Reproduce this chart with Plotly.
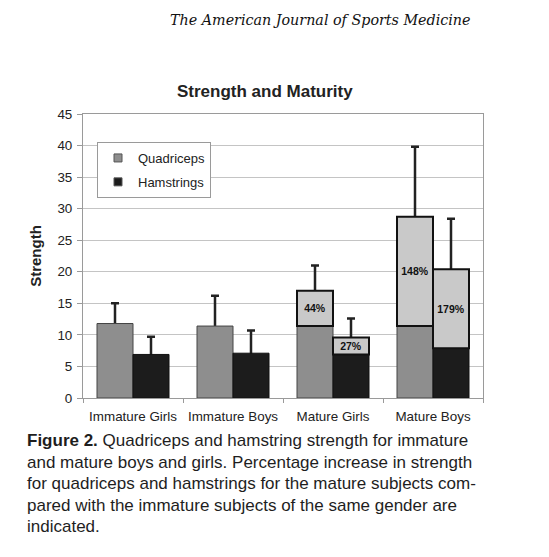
import plotly.graph_objects as go

categories = ["Immature Girls", "Immature Boys", "Mature Girls", "Mature Boys"]
quad_mean = [11.8, 11.4, 17.0, 28.7]
quad_err = [3.2, 4.8, 4.0, 11.1]
quad_ref = [None, None, 11.4, 11.4]
ham_mean = [6.9, 7.1, 9.6, 20.4]
ham_err = [2.8, 3.6, 3.0, 8.0]
ham_ref = [None, None, 6.9, 7.9]
quad_pct = ["", "", "44%", "148%"]
ham_pct = ["", "", "27%", "179%"]

caption_lines = [
    "<b>Figure 2.</b> Quadriceps and hamstring strength for immature",
    "and mature boys and girls. Percentage increase in strength",
    "for quadriceps and hamstrings for the mature subjects com-",
    "pared with the immature subjects of the same gender are",
    "indicated.",
]

FONT = "Liberation Sans, Arial, sans-serif"
Q_COL = "#8e8e8e"
H_COL = "#1c1c1c"
INC_COL = "#c9c9c9"
ERR_COL = "#222222"

# page body has an 8px margin; figure is sized to fit the window
PAGE = 8
W, H = 549 - PAGE, 557 - PAGE
PL, PR, PT, PB = 83, 483, 114, 398   # plot area in window pixels


def px(xw):
    return (xw - PL) / (PR - PL)


def py(yw):
    return (PB - yw) / (PB - PT)


def base_vals(mean, ref):
    return [m if r is None else r for m, r in zip(mean, ref)]


def inc_vals(mean, ref):
    return [None if r is None else m - r for m, r in zip(mean, ref)]


fig = go.Figure()

# error bars drawn first (underneath the visible bars)
for mean, err, grp in [(quad_mean, quad_err, "q"), (ham_mean, ham_err, "h")]:
    fig.add_trace(go.Bar(
        x=categories, y=mean, offsetgroup=grp, showlegend=False, hoverinfo="skip",
        marker=dict(color="rgba(0,0,0,0)", line=dict(width=0)),
        error_y=dict(type="data", symmetric=False, array=err, arrayminus=mean,
                     color=ERR_COL, thickness=2.5, width=4),
    ))

fig.add_trace(go.Bar(
    x=categories, y=base_vals(quad_mean, quad_ref), name="Quadriceps",
    offsetgroup="q", showlegend=False,
    marker=dict(color=Q_COL, line=dict(color="#444444", width=1)),
))
fig.add_trace(go.Bar(
    x=categories, y=inc_vals(quad_mean, quad_ref), base=quad_ref, showlegend=False,
    offsetgroup="q", text=quad_pct, textposition="inside", insidetextanchor="middle",
    constraintext="none",
    textfont=dict(family=FONT, size=10.5, color="#111111", weight="bold"),
    marker=dict(color=INC_COL, line=dict(color="#111111", width=2)),
    hoverinfo="skip",
))
fig.add_trace(go.Bar(
    x=categories, y=base_vals(ham_mean, ham_ref), name="Hamstrings",
    offsetgroup="h", showlegend=False,
    marker=dict(color=H_COL, line=dict(color="#111111", width=1)),
))
fig.add_trace(go.Bar(
    x=categories, y=inc_vals(ham_mean, ham_ref), base=ham_ref, showlegend=False,
    offsetgroup="h", text=ham_pct, textposition="inside", insidetextanchor="middle",
    constraintext="none",
    textfont=dict(family=FONT, size=10.5, color="#111111", weight="bold"),
    marker=dict(color=INC_COL, line=dict(color="#111111", width=2)),
    hoverinfo="skip",
))

# legend entries with small square swatches
for name, col, grp in [("Quadriceps", Q_COL, "q"), ("Hamstrings", H_COL, "h")]:
    fig.add_trace(go.Scatter(
        x=[None], y=[None], mode="markers", name=name, legendgroup=grp,
        marker=dict(symbol="square", size=8, color=col, line=dict(color="#555555", width=1)),
    ))

annotations = [
    dict(text="Strength and Maturity", x=px(264.5), y=py(91),
         xref="paper", yref="paper", showarrow=False, xanchor="center", yanchor="middle",
         font=dict(family=FONT, size=17, color="#222222", weight="bold")),
    dict(text="<i>The American Journal of Sports Medicine</i>", x=px(472.5),
         y=py(20), xref="paper", yref="paper", showarrow=False,
         xanchor="right", yanchor="middle",
         font=dict(family="DejaVu Serif, serif", size=14.3, color="#111111")),
]
line_y = [440.7, 462.2, 483.7, 505.2, 526.7]
for txt, yy in zip(caption_lines, line_y):
    annotations.append(dict(text=txt, x=px(25), y=py(yy),
                            xref="paper", yref="paper", showarrow=False,
                            xanchor="left", yanchor="middle",
                            font=dict(family=FONT, size=17, color="#1e1e1e")))

fig.update_layout(
    width=W, height=H,
    margin=dict(l=PL - PAGE, r=W - (PR - PAGE), t=PT - PAGE, b=H - (PB - PAGE), pad=0),
    paper_bgcolor="white", plot_bgcolor="white",
    barmode="group", bargap=0.28, bargroupgap=0,
    font=dict(family=FONT, size=13, color="#222222"),
    showlegend=True,
    legend=dict(x=px(97), y=py(142), xanchor="left", yanchor="top",
                bgcolor="white", bordercolor="#9a9a9a", borderwidth=1,
                font=dict(family=FONT, size=13, color="#222222"),
                tracegroupgap=4, itemwidth=30),
    annotations=annotations,
    xaxis=dict(showgrid=False, ticks="outside", tickson="boundaries", ticklen=4,
               tickcolor="#9a9a9a", linecolor="#9a9a9a", showline=True, mirror=True,
               ticklabelstandoff=6, automargin=False, tickangle=0,
               tickfont=dict(family=FONT, size=13.4, color="#222222")),
    yaxis=dict(range=[0, 45], dtick=5, showgrid=True, gridcolor="#c4c4c4", gridwidth=1,
               ticks="outside", ticklen=5, tickcolor="#9a9a9a",
               linecolor="#9a9a9a", showline=True, mirror=True, zeroline=False,
               ticklabelstandoff=2, automargin=False,
               tickfont=dict(family=FONT, size=13.4, color="#222222"),
               title=dict(text="<b>Strength</b>", standoff=12,
                          font=dict(family=FONT, size=15, color="#222222"))),
)

fig.write_html("out.html")
